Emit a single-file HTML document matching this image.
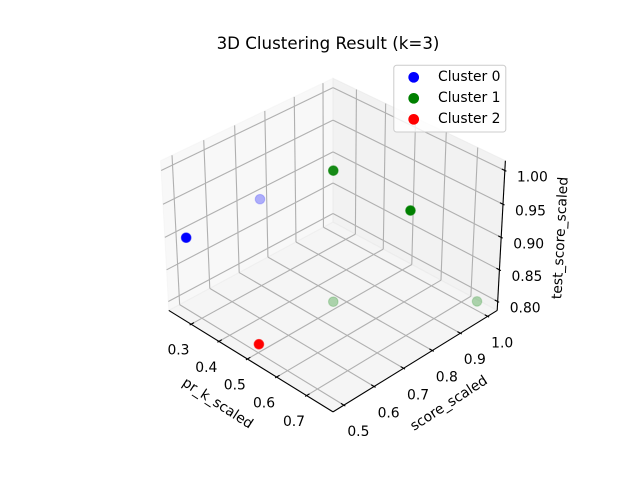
<!DOCTYPE html>
<html>
<head>
<meta charset="utf-8">
<title>3D Clustering Result (k=3)</title>
<style>
html,body{margin:0;padding:0;background:#fff;}
svg{display:block;font-family:"DejaVu Sans","Liberation Sans",sans-serif;fill:#000;}
</style>
</head>
<body>
<svg id="chart" xmlns="http://www.w3.org/2000/svg" width="640" height="480" viewBox="0 0 640 480">
<rect x="0" y="0" width="640" height="480" fill="#fff"/>
<g id="scene"></g>
<text x="328" y="49" font-size="16.67" text-anchor="middle">3D Clustering Result (k=3)</text>
<text x="217.5" y="403.5" font-size="13.89" text-anchor="middle" dominant-baseline="central" transform="rotate(33 217.5 403.5)">pr_k_scaled</text>
<text x="449" y="403.5" font-size="13.89" text-anchor="middle" dominant-baseline="central" transform="rotate(-33 449 403.5)">score_scaled</text>
<text x="560.5" y="238" font-size="13.89" text-anchor="middle" dominant-baseline="central" transform="rotate(-87 560.5 238)">test_score_scaled</text>
<g>
<rect x="393.8" y="65.3" width="112" height="66.7" rx="2.8" fill="#fff" fill-opacity="0.8" stroke="#ccc" stroke-width="1"/>
<g>
<circle cx="413.7" cy="77.3" r="4.8" fill="#0000ff" stroke="#0000ff" stroke-width="1.1"/>
<text x="438" y="81" font-size="13.89">Cluster 0</text>
</g>
<g>
<circle cx="413.7" cy="98.3" r="4.8" fill="#008000" stroke="#008000" stroke-width="1.1"/>
<text x="438" y="102" font-size="13.89">Cluster 1</text>
</g>
<g>
<circle cx="413.7" cy="119.3" r="4.8" fill="#ff0000" stroke="#ff0000" stroke-width="1.1"/>
<text x="438" y="123" font-size="13.89">Cluster 2</text>
</g>
</g>
</svg>
<script>
// Chart data
const xTicks = [0.3, 0.4, 0.5, 0.6, 0.7];
const yTicks = [0.5, 0.6, 0.7, 0.8, 0.9, 1.0];
const zTicks = [0.80, 0.85, 0.90, 0.95, 1.00];
const xTickLabels = ["0.3", "0.4", "0.5", "0.6", "0.7"];
const yTickLabels = ["0.5", "0.6", "0.7", "0.8", "0.9", "1.0"];
const zTickLabels = ["0.80", "0.85", "0.90", "0.95", "1.00"];
const xLimits = [0.218, 0.786];
const yLimits = [0.4646, 1.0354];
const zLimits = [0.7858, 1.0142];

const cluster0X = [0.255, 0.253];
const cluster0Y = [0.5, 0.745];
const cluster0Z = [0.9, 0.9];
const cluster1X = [0.503, 0.75, 0.503, 0.75];
const cluster1Y = [0.75, 0.75, 0.75, 1.0];
const cluster1Z = [1.0, 1.0, 0.8, 0.8];
const cluster2X = [0.503];
const cluster2Y = [0.5];
const cluster2Z = [0.8];

// Projection (camera elevation 33 deg, azimuth -45 deg, unit focal length)
const NS = 'http://www.w3.org/2000/svg';
const scene = document.getElementById('scene');
const elev = 33 * Math.PI / 180;
const azim = -45 * Math.PI / 180;
const boxScale = 1.8294640721620434 * 25 / 24 / Math.sqrt(41);
const halfX = 2 * boxScale;
const halfY = 2 * boxScale;
const halfZ = 1.5 * boxScale;
const dist = 10;
const pxScale = 1998;
const centerX = 333;
const centerY = 237.4;
const w = [Math.cos(elev) * Math.cos(azim), Math.cos(elev) * Math.sin(azim), Math.sin(elev)];
const uLen = Math.hypot(w[0], w[1]);
const u = [-w[1] / uLen, w[0] / uLen, 0];
const v = [w[1] * u[2] - w[2] * u[1], w[2] * u[0] - w[0] * u[2], w[0] * u[1] - w[1] * u[0]];

function worldOf(x, y, z) {
  return [
    halfX * (2 * (x - xLimits[0]) / (xLimits[1] - xLimits[0]) - 1),
    halfY * (2 * (y - yLimits[0]) / (yLimits[1] - yLimits[0]) - 1),
    halfZ * (2 * (z - zLimits[0]) / (zLimits[1] - zLimits[0]) - 1)
  ];
}
function dot(a, b) { return a[0] * b[0] + a[1] * b[1] + a[2] * b[2]; }
function depth(x, y, z) { return dot(worldOf(x, y, z), w); }
function project(x, y, z) {
  const q = worldOf(x, y, z);
  const d = dist - dot(q, w);
  return [centerX + pxScale * dot(q, u) / d, centerY - pxScale * dot(q, v) / d];
}
function addLine(p, q, color, width) {
  const el = document.createElementNS(NS, 'line');
  el.setAttribute('x1', p[0].toFixed(2));
  el.setAttribute('y1', p[1].toFixed(2));
  el.setAttribute('x2', q[0].toFixed(2));
  el.setAttribute('y2', q[1].toFixed(2));
  el.setAttribute('stroke', color);
  el.setAttribute('stroke-width', width);
  scene.appendChild(el);
  return el;
}
function addPane(points, color) {
  const el = document.createElementNS(NS, 'polygon');
  el.setAttribute('points', points.map(function (p) { return p[0].toFixed(2) + ',' + p[1].toFixed(2); }).join(' '));
  el.setAttribute('fill', color);
  el.setAttribute('fill-opacity', '0.5');
  el.setAttribute('stroke', color);
  el.setAttribute('stroke-opacity', '0.5');
  el.setAttribute('stroke-width', '1');
  scene.appendChild(el);
  return el;
}
function addLabel(text, p, dx, dy) {
  const el = document.createElementNS(NS, 'text');
  el.setAttribute('x', (p[0] + dx).toFixed(2));
  el.setAttribute('y', (p[1] + dy + 5).toFixed(2));
  el.setAttribute('font-size', '13.89');
  el.setAttribute('text-anchor', 'middle');
  el.textContent = text;
  scene.appendChild(el);
  return el;
}

const x0 = xLimits[0], x1 = xLimits[1];
const y0 = yLimits[0], y1 = yLimits[1];
const z0 = zLimits[0], z1 = zLimits[1];
const xSpan = x1 - x0, ySpan = y1 - y0;

// Panes
const paneX = addPane([project(x0, y0, z0), project(x0, y1, z0), project(x0, y1, z1), project(x0, y0, z1)], '#f2f2f2');


const paneY = addPane([project(x0, y1, z0), project(x1, y1, z0), project(x1, y1, z1), project(x0, y1, z1)], '#e6e6e6');


const paneZ = addPane([project(x0, y0, z0), project(x1, y0, z0), project(x1, y1, z0), project(x0, y1, z0)], '#ececec');



// Grid lines
const gridColor = '#b0b0b0';
xTicks.forEach(function (t) {
  const a = addLine(project(t, y0, z0), project(t, y1, z0), gridColor, 1.11);
  
  
  const b = addLine(project(t, y1, z0), project(t, y1, z1), gridColor, 1.11);
  
  
});
yTicks.forEach(function (t) {
  const a = addLine(project(x0, t, z0), project(x1, t, z0), gridColor, 1.11);
  
  
  const b = addLine(project(x0, t, z0), project(x0, t, z1), gridColor, 1.11);
  
  
});
zTicks.forEach(function (t) {
  const a = addLine(project(x0, y0, t), project(x0, y1, t), gridColor, 1.11);
  
  
  const b = addLine(project(x0, y1, t), project(x1, y1, t), gridColor, 1.11);
  
  
});

// Axis lines
const xAxisLine = addLine(project(x0, y0, z0), project(x1, y0, z0), '#000', 1.11);


const yAxisLine = addLine(project(x1, y0, z0), project(x1, y1, z0), '#000', 1.11);


const zAxisLine = addLine(project(x1, y1, z0), project(x1, y1, z1), '#000', 1.11);



// Ticks and tick labels
const tickIn = 0.2 / 12;
const tickOut = 0.1 / 12;
xTicks.forEach(function (t, i) {
  const tick = addLine(project(t, y0 + ySpan * tickIn, z0), project(t, y0 - ySpan * tickOut, z0), '#000', 1.11);
  
  
  const label = addLabel(xTickLabels[i], project(t, y0, z0), -12.6, 25.4);
  
  
});
yTicks.forEach(function (t, i) {
  const tick = addLine(project(x1 - xSpan * tickIn, t, z0), project(x1 + xSpan * tickOut, t, z0), '#000', 1.11);
  
  
  const label = addLabel(yTickLabels[i], project(x1, t, z0), 14.5, 26);
  
  
});
zTicks.forEach(function (t, i) {
  const tick = addLine(project(x1 - xSpan * tickIn, y1, t), project(x1 + xSpan * tickOut, y1, t), '#000', 1.11);
  
  
  const label = addLabel(zTickLabels[i], project(x1, y1, t), 27.5, 6);
  
  
});

// Points with depth shading per series
function drawCluster(xs, ys, zs, color, name) {
  const depths = xs.map(function (x, i) { return depth(x, ys[i], zs[i]); });
  const lo = Math.min.apply(null, depths);
  const hi = Math.max.apply(null, depths);
  xs.forEach(function (x, i) {
    const p = project(x, ys[i], zs[i]);
    const n = hi > lo ? (depths[i] - lo) / (hi - lo) : 1;
    const alpha = Math.min(1, 0.3 + 0.7 * n * 1.5);
    const el = document.createElementNS(NS, 'circle');
    
    
    el.setAttribute('cx', p[0].toFixed(2));
    el.setAttribute('cy', p[1].toFixed(2));
    el.setAttribute('r', '4.8');
    el.setAttribute('fill', color);
    el.setAttribute('fill-opacity', alpha.toFixed(3));
    el.setAttribute('stroke', color);
    el.setAttribute('stroke-opacity', (alpha * 0.6).toFixed(3));
    el.setAttribute('stroke-width', '1.1');
    scene.appendChild(el);
  });
}
drawCluster(cluster0X, cluster0Y, cluster0Z, '#0000ff', 'cluster-0-point');
drawCluster(cluster1X, cluster1Y, cluster1Z, '#008000', 'cluster-1-point');
drawCluster(cluster2X, cluster2Y, cluster2Z, '#ff0000', 'cluster-2-point');
</script>
</body>
</html>
